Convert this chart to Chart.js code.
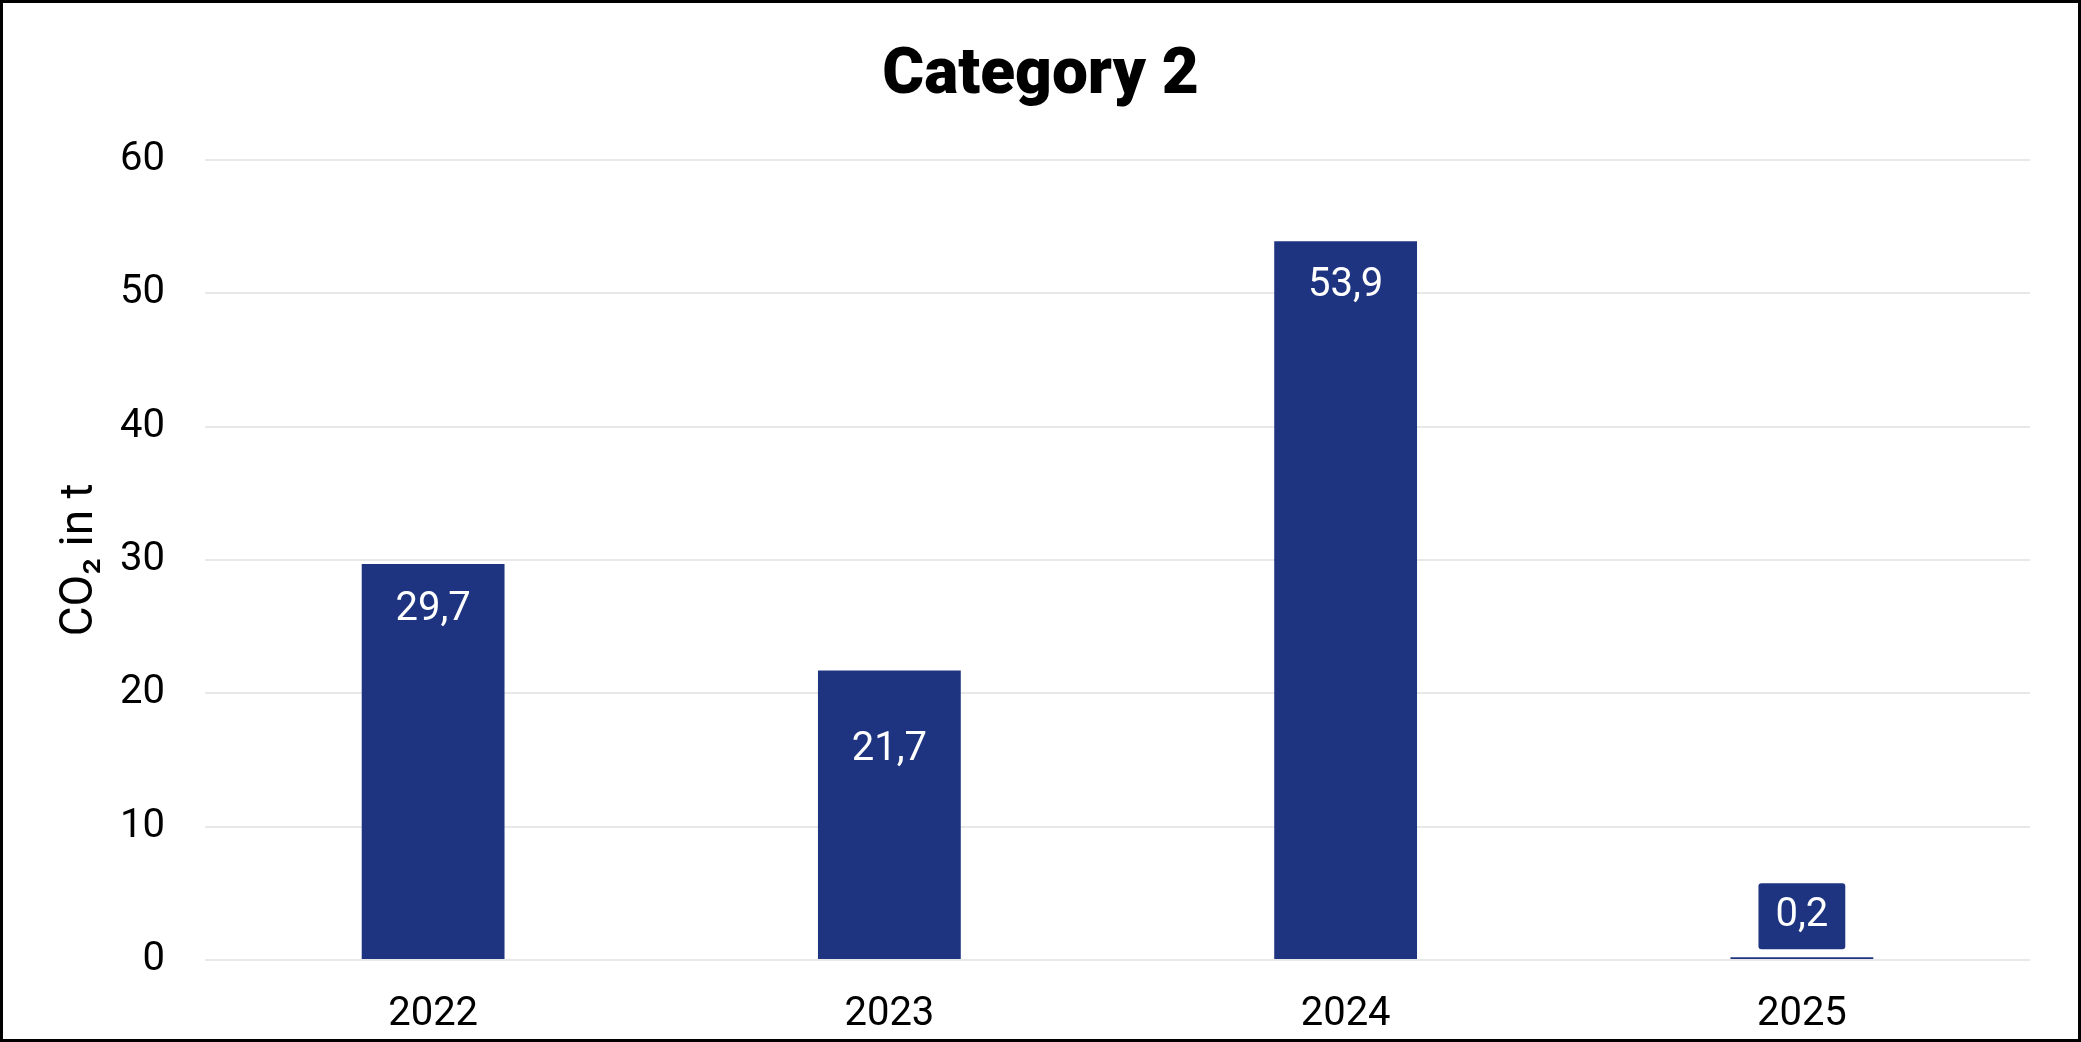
<!DOCTYPE html>
<html>
<head>
<meta charset="utf-8">
<script src="https://cdn.jsdelivr.net/npm/chart.js@4.4.1/dist/chart.umd.min.js"></script>
<style>
  html, body { margin: 0; padding: 0; background: #fff; }
  #wrap { position: relative; width: 2081px; height: 1042px; }
  #frame { position: absolute; left: 0; top: 0; width: 2081px; height: 1042px;
           box-sizing: border-box; border: 3px solid #000; pointer-events: none; }
</style>
</head>
<body>
<div id="wrap">
  <canvas id="chart" width="2081" height="1042"></canvas>
  <div id="frame"></div>
</div>
<script>
var years = ['2022', '2023', '2024', '2025'];
var co2Values = [29.7, 21.7, 53.9, 0.2];
var yTicks = [0, 10, 20, 30, 40, 50, 60];

var barColor = '#1f3480';

function formatValue(v) {
  return v.toLocaleString('de-DE', { minimumFractionDigits: 1, maximumFractionDigits: 1 });
}

// draws the value labels: inside the bar, or in a small box above it if the bar is too short
var valueLabels = {
  id: 'valueLabels',
  afterDatasetsDraw: function(chart, args, opts) {
    var ctx = chart.ctx;
    var meta = chart.getDatasetMeta(0);
    ctx.save();
    ctx.font = '40px Roboto';
    ctx.textAlign = 'center';
    ctx.textBaseline = 'middle';
    meta.data.forEach(function(bar, i) {
      var text = formatValue(chart.data.datasets[0].data[i]);
      var h = bar.base - bar.y;
      if (h > 60) {
        ctx.fillStyle = '#fff';
        ctx.fillText(text, bar.x, bar.y + opts.insideOffsets[i]);
      } else {
        var w = ctx.measureText(text).width + 34;
        var bh = 66;
        var top = bar.y - 8 - bh;
        ctx.fillStyle = barColor;
        ctx.beginPath();
        ctx.roundRect(bar.x - w / 2, top, w, bh, 3);
        ctx.fill();
        ctx.fillStyle = '#fff';
        ctx.fillText(text, bar.x, top + bh / 2);
      }
    });
    ctx.restore();
  }
};

new Chart(document.getElementById('chart'), {
  type: 'bar',
  data: {
    labels: years,
    datasets: [{
      data: co2Values,
      backgroundColor: barColor,
      categoryPercentage: 1,
      barPercentage: 0.313
    }]
  },
  options: {
    responsive: false,
    animation: false,
    // symmetric side padding keeps the title centred on the page
    layout: { padding: { left: 51, right: 51, top: 0, bottom: 5 } },
    plugins: {
      legend: { display: false },
      tooltip: { enabled: false },
      title: {
        display: true,
        text: 'Category 2',
        color: '#000',
        font: { family: 'Roboto', size: 64, weight: 900 },
        padding: { top: 39, bottom: 44 }
      },
      valueLabels: { insideOffsets: [46, 79, 45, 46] }
    },
    scales: {
      x: {
        grid: { display: false, drawTicks: false },
        border: { display: false },
        afterFit: function(scale) { scale.height = 77; },
        ticks: { color: '#000', padding: 31, font: { family: 'Roboto', size: 40 } }
      },
      y: {
        min: 0,
        max: 60,
        afterBuildTicks: function(scale) {
          scale.ticks = yTicks.map(function(v) { return { value: v }; });
        },
        afterFit: function(scale) { scale.width = 154; },
        grid: { color: '#e8e8e8', lineWidth: 2, drawTicks: false },
        border: { display: false },
        ticks: { color: '#000', padding: 40, font: { family: 'Roboto', size: 40 } },
        title: {
          display: true,
          text: 'CO₂ in t',
          color: '#000',
          font: { family: 'Roboto', size: 46 },
          padding: { top: 2, bottom: 0 }
        }
      }
    }
  },
  plugins: [valueLabels]
});
</script>
</body>
</html>
